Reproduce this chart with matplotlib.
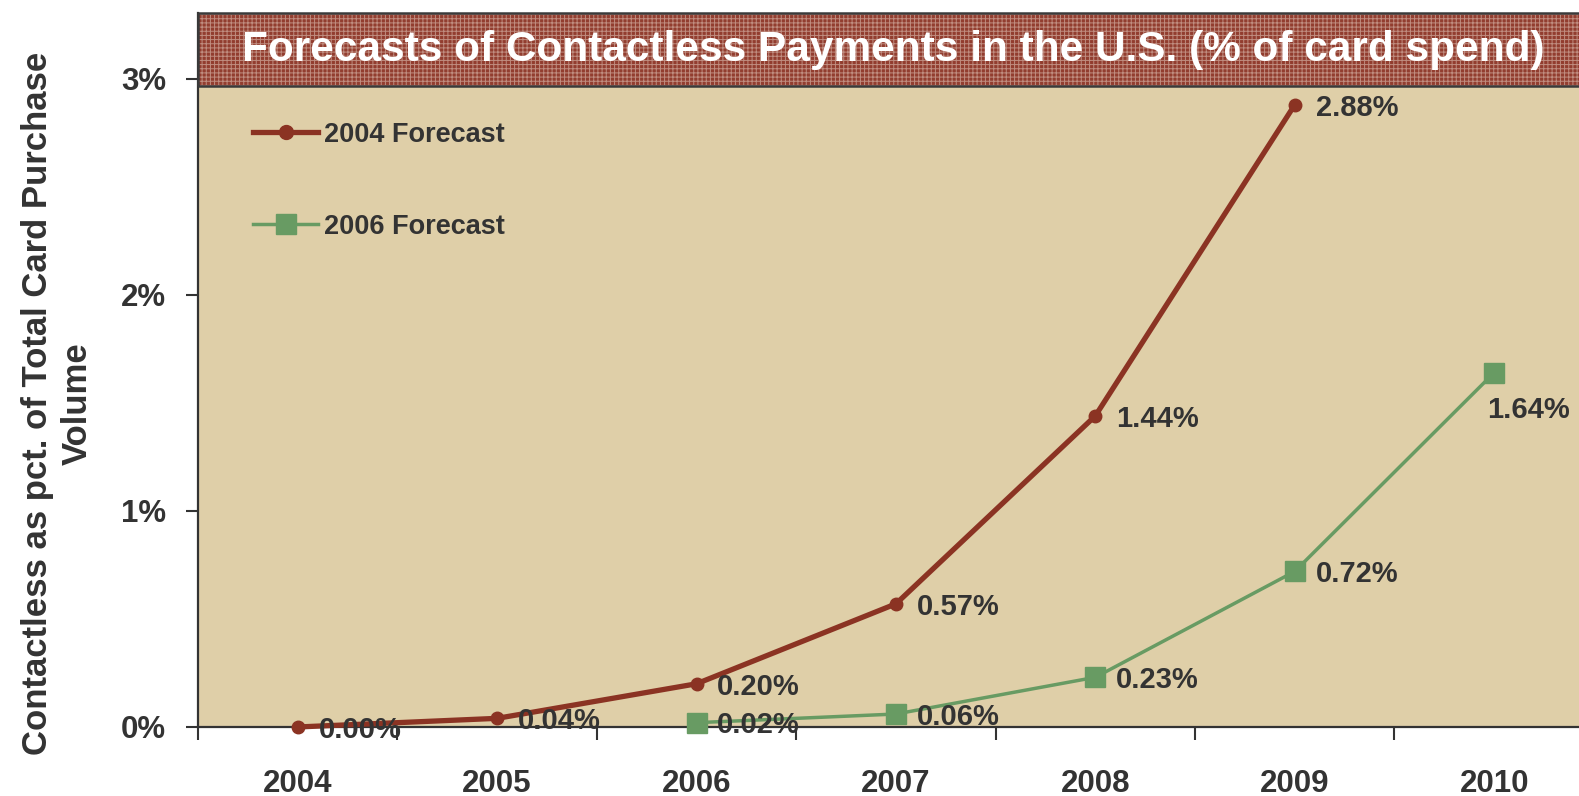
import matplotlib
matplotlib.use("Agg")
import matplotlib.pyplot as plt
from matplotlib.patches import Rectangle
from matplotlib.ticker import FuncFormatter

years = ["2004", "2005", "2006", "2007", "2008", "2009", "2010"]
f2004_x = [0, 1, 2, 3, 4, 5]
f2004 = [0.00, 0.04, 0.20, 0.57, 1.44, 2.88]
f2006_x = [2, 3, 4, 5, 6]
f2006 = [0.02, 0.06, 0.23, 0.72, 1.64]

RED = "#8b3323"
GREEN = "#689b63"
TAN = "#dfcfa8"
INK = "#333333"
FONT = ["Liberation Sans", "DejaVu Sans"]

plt.rcParams["hatch.linewidth"] = 0.7

fig = plt.figure(figsize=(15.79, 7.96), dpi=100)
ax = fig.add_axes([0.1254, 0.0867, 0.884, 0.897])
ax.set_facecolor(TAN)

ax.plot(f2004_x, f2004, color=RED, lw=3.8, marker="o", ms=9, label="2004 Forecast",
        zorder=6, clip_on=False)
ax.plot(f2006_x, f2006, color=GREEN, lw=2.5, marker="s", ms=15, label="2006 Forecast",
        zorder=5, clip_on=False)

# value labels next to each point
for x, v in zip(f2004_x, f2004):
    ax.annotate(f"{v:.2f}%", (x, v), xytext=(15, -2), textcoords="offset points",
                ha="left", va="center", fontsize=21, fontweight="bold", color=INK,
                family=FONT, zorder=7)
for x, v in zip(f2006_x, f2006):
    off = (-5, -27) if x == 6 else (15, -2)
    ax.annotate(f"{v:.2f}%", (x, v), xytext=off, textcoords="offset points",
                ha="left", va="center", fontsize=21, fontweight="bold", color=INK,
                family=FONT, zorder=7)

ax.set_xlim(-0.5, 6.5)
ax.set_ylim(0, 3.305)
ax.set_xticks(range(len(years)))
ax.set_xticklabels(years)
ax.set_xticks([i + 0.5 for i in range(-1, 7)], minor=True)
ax.tick_params(axis="x", which="major", length=0, pad=30)
ax.tick_params(axis="x", which="minor", length=9, width=1.5, color=INK, direction="out")
ax.set_yticks([0, 1, 2, 3])
ax.yaxis.set_major_formatter(FuncFormatter(lambda v, p: f"{v:.0f}%"))
ax.tick_params(axis="y", length=9, width=1.5, color=INK, pad=14)
for lab in ax.get_xticklabels() + ax.get_yticklabels():
    lab.set_family(FONT)
    lab.set_fontweight("bold")
    lab.set_fontsize(22.5)
    lab.set_color(INK)

for s in ["top", "right"]:
    ax.spines[s].set_visible(False)
for s in ["left", "bottom"]:
    ax.spines[s].set_color(INK)
    ax.spines[s].set_linewidth(1.6)
    ax.spines[s].set_zorder(4)

# title banner across the top of the plot area
band_y = 2.967 / 3.305
ax.add_patch(Rectangle((0, band_y), 1, 1 - band_y, transform=ax.transAxes,
                       facecolor="#923d2f", edgecolor="#c08d80", hatch="++++",
                       lw=0, zorder=8, clip_on=False))
ax.add_patch(Rectangle((0, band_y), 1, 1 - band_y, transform=ax.transAxes,
                       facecolor="none", edgecolor="#3a3a3a", lw=1.8,
                       zorder=8, clip_on=False))
fig.text(0.5655, 0.937, "Forecasts of Contactless Payments in the U.S. (% of card spend)",
         ha="center", va="center", color="white", fontsize=30.5, fontweight="bold",
         family=FONT, zorder=10)

fig.text(0.0364, 0.493, "Contactless as pct. of Total Card Purchase\nVolume",
         rotation=90, ha="center", va="center", ma="center", fontsize=25,
         fontweight="bold", color=INK, family=FONT, linespacing=1.28)

leg = ax.legend(loc="upper left", bbox_to_anchor=(0.022, 0.882), frameon=False,
                handlelength=2.4, labelspacing=2.45, handletextpad=0.2,
                prop={"family": FONT, "weight": "bold", "size": 19.5})
for t in leg.get_texts():
    t.set_color(INK)
leg.legend_handles[0].set_markersize(10)
leg.legend_handles[1].set_markersize(14)

fig.savefig("out.png", dpi=100)
